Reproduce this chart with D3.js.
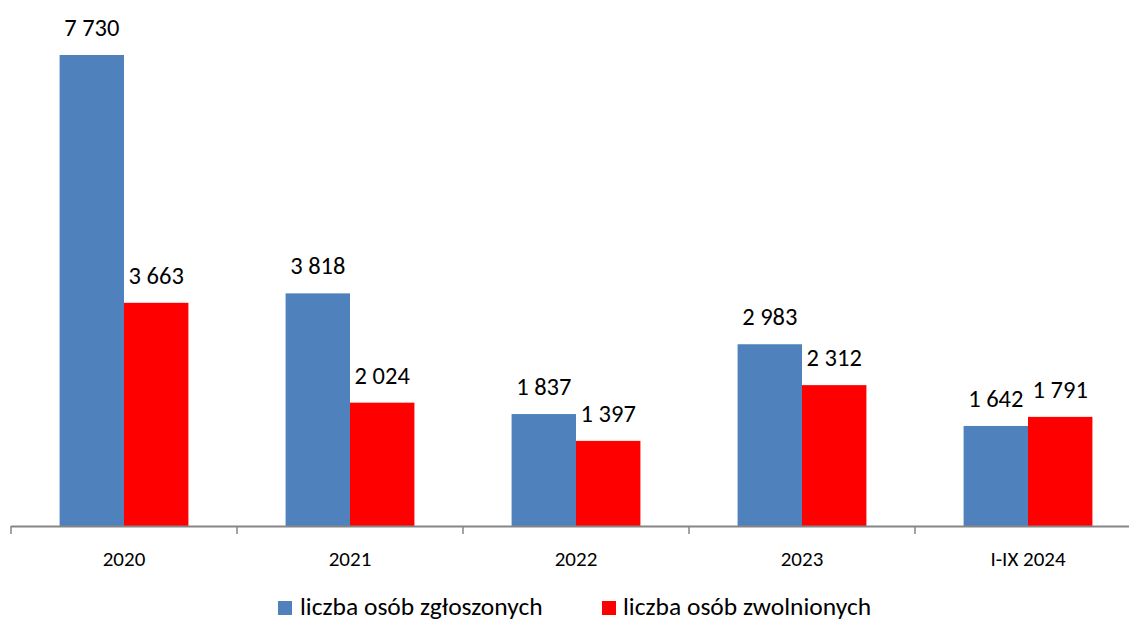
<!DOCTYPE html>
<html>
<head>
<meta charset="utf-8">
<script src="https://cdn.jsdelivr.net/npm/d3@7"></script>
<style>
  body { margin: 0; background: #fff; }
  svg { display: block; font-family: Carlito, Calibri, Lato, sans-serif; }
</style>
</head>
<body>
<svg width="1129" height="622"></svg>
<script>
// data
const categories = ["2020", "2021", "2022", "2023", "I-IX 2024"];
const seriesNames = ["liczba osób zgłoszonych", "liczba osób zwolnionych"];
const zgloszonych = [7730, 3818, 1837, 2983, 1642];
const zwolnionych = [3663, 2024, 1397, 2312, 1791];
const colors = ["#4F81BD", "#FF0000"];

const rows = categories.map((c, i) => ({ cat: c, values: [zgloszonych[i], zwolnionych[i]] }));

const svg = d3.select("svg");
const baseY = 526;

// the plot area runs a bit past the right edge of the picture
const x = d3.scaleBand()
  .domain(categories)
  .range([11, 1141])
  .paddingInner(0.43)
  .paddingOuter(0.215);

const x1 = d3.scaleBand()
  .domain([0, 1])
  .range([0, x.bandwidth()]);

const y = d3.scaleLinear()
  .domain([0, 8000])
  .range([baseY, baseY - 8000 * 0.06093]);

const fmt = v => d3.format(",")(v).replace(/,/g, " ");

const g = svg.append("g")
  .selectAll("g")
  .data(rows)
  .enter()
  .append("g")
    .attr("transform", d => `translate(${x(d.cat)},0)`);

g.selectAll("rect")
  .data(d => d.values)
  .enter()
  .append("rect")
    .attr("x", (d, i) => x1(i))
    .attr("y", d => y(d))
    .attr("width", x1.bandwidth())
    .attr("height", d => baseY - y(d))
    .attr("fill", (d, i) => colors[i]);

g.selectAll("text")
  .data(d => d.values)
  .enter()
  .append("text")
    .attr("x", (d, i) => x1(i) + x1.bandwidth() / 2)
    .attr("y", d => y(d) - 19)
    .attr("text-anchor", "middle")
    .style("font-size", "24.5px")
    .style("fill", "#000")
    .text(d => fmt(d));

// axis: band boundaries as ticks
const step = x.step();
const edges = d3.range(categories.length + 1).map(i => 11 + i * step);
const axis = svg.append("g");
axis.append("line")
  .attr("x1", 11).attr("x2", 1141)
  .attr("y1", baseY + 0.5).attr("y2", baseY + 0.5)
  .attr("stroke", "#868686").attr("stroke-width", 2);
axis.selectAll(".tick")
  .data(edges)
  .enter()
  .append("line")
    .attr("x1", d => d).attr("x2", d => d)
    .attr("y1", baseY).attr("y2", baseY + 8)
    .attr("stroke", "#868686").attr("stroke-width", 1.5);
axis.selectAll(".lbl")
  .data(categories)
  .enter()
  .append("text")
    .attr("x", d => x(d) + x.bandwidth() / 2)
    .attr("y", 566)
    .attr("text-anchor", "middle")
    .style("font-size", "21px")
    .text(d => d);

// legend
const legendX = [278, 602];
const leg = svg.append("g")
  .selectAll("g")
  .data(seriesNames)
  .enter()
  .append("g")
    .attr("transform", (d, i) => `translate(${legendX[i]},601)`);
leg.append("rect")
  .attr("width", 14).attr("height", 14)
  .attr("fill", (d, i) => colors[i]);
leg.append("text")
  .attr("x", (d, i) => i === 0 ? 22 : 21)
  .attr("y", 14)
  .style("font-size", "25.5px")
  .text(d => d);
</script>
</body>
</html>
